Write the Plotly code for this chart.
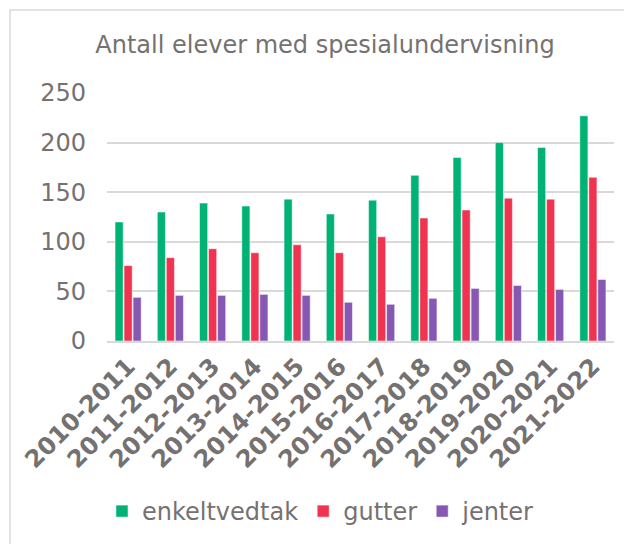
import plotly.graph_objects as go

# skoleår
years = ['2010-2011', '2011-2012', '2012-2013', '2013-2014', '2014-2015', '2015-2016',
         '2016-2017', '2017-2018', '2018-2019', '2019-2020', '2020-2021', '2021-2022']
enkeltvedtak = [120, 130, 139, 136, 143, 128, 142, 167, 185, 200, 195, 227]
gutter = [76, 84, 93, 89, 97, 89, 105, 124, 132, 144, 143, 165]
jenter = [44, 46, 46, 47, 46, 39, 37, 43, 53, 56, 52, 62]

grey = '#767171'
font = 'DejaVu Sans'

fig = go.Figure()
fig.add_trace(go.Bar(x=years, y=enkeltvedtak, name='enkeltvedtak', marker_color='#00B274',
                     marker_line=dict(color='white', width=0.5)))
fig.add_trace(go.Bar(x=years, y=gutter, name='gutter', marker_color='#F03350',
                     marker_line=dict(color='white', width=0.5)))
fig.add_trace(go.Bar(x=years, y=jenter, name='jenter', marker_color='#8658B4',
                     marker_line=dict(color='white', width=0.5)))

# ramme rundt diagrammet (siden har 8px marg, så alt er flyttet 8px)
fig.add_shape(type='rect', xref='paper', yref='paper',
              x0=(2-99)/507, x1=1.2, y0=-1.0, y1=(333-2)/248,
              line=dict(color='#D9D9D9', width=1.5), fillcolor='rgba(0,0,0,0)', layer='below')

fig.update_layout(
    width=632, height=544,
    margin=dict(l=99, r=26, t=85, b=211),
    paper_bgcolor='white', plot_bgcolor='white',
    font=dict(family=font, color=grey, size=24),
    title=dict(text='Antall elever med spesialundervisning', x=317/632, xref='container',
               xanchor='center', y=1-37/544, yanchor='middle',
               font=dict(family=font, size=24, color=grey)),
    barmode='group', bargap=0.36, bargroupgap=0.1,
    showlegend=True,
    legend=dict(orientation='h', x=(313-99)/507, xanchor='center', y=(333-503.5)/248,
                yanchor='middle', font=dict(family=font, size=24, color=grey),
                itemwidth=30, tracegroupgap=0),
    xaxis=dict(tickangle=-45, tickfont=dict(size=24, color=grey, weight='bold'), showline=True,
               linecolor='#D9D9D9', linewidth=1.5, ticks=''),
    yaxis=dict(range=[0, 250], dtick=50, showgrid=True, gridcolor='#D9D9D9', gridwidth=1.5,
               zeroline=False, tickfont=dict(size=24, color=grey), ticks='', ticklabelstandoff=20),
)

fig.write_html('out.html')
